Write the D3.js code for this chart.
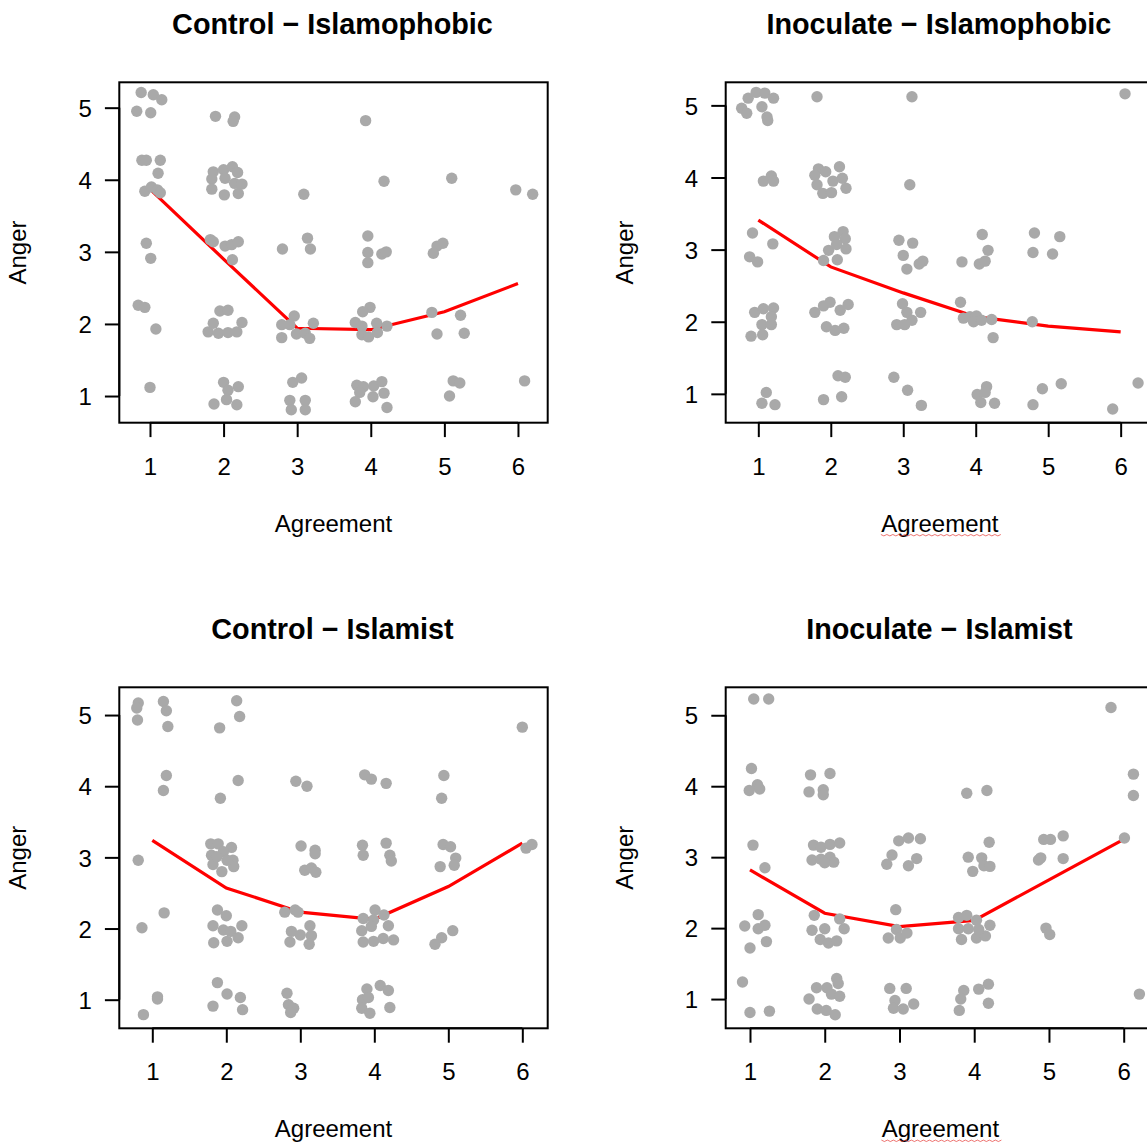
<!DOCTYPE html>
<html>
<head>
<meta charset="utf-8">
<script src="https://cdn.jsdelivr.net/npm/d3@7"></script>
<style>
  body { margin: 0; background: #fff; }
  svg { display: block; font-family: "Liberation Sans", Arial, sans-serif; }
</style>
</head>
<body>
<div class="chart"></div>
<script>
// ---- data ----
var agreementLevels = [1, 2, 3, 4, 5, 6];
var angerTicks = [1, 2, 3, 4, 5];
var panelTitles = ['Control \u2212 Islamophobic', 'Inoculate \u2212 Islamophobic',
                   'Control \u2212 Islamist', 'Inoculate \u2212 Islamist'];
var xLabel = 'Agreement';
var yLabel = 'Anger';

// jittered responses [agreement, anger]
var ctrlPhobicPts = [
  [0.88,5.21],[1.045,5.18],[1.16,5.11],[0.82,4.95],[1.01,4.93],[0.89,4.27],[0.95,4.27],[1.14,4.27],
  [1.11,4.09],[0.93,3.84],[1.02,3.90],[1.10,3.86],[1.14,3.82],[0.95,3.12],[1.01,2.91],[0.84,2.26],
  [0.93,2.23],[1.08,1.93],[1.00,1.12],
  [1.89,4.88],[2.15,4.87],[2.13,4.81],[1.86,4.11],[2.00,4.14],[2.12,4.18],[2.19,4.10],[1.84,4.01],
  [2.02,4.02],[2.15,3.95],[2.25,3.94],[1.84,3.87],[2.01,3.79],[2.20,3.81],[1.82,3.17],[1.86,3.14],
  [2.02,3.08],[2.11,3.10],[2.20,3.14],[2.12,2.89],[1.95,2.18],[2.06,2.19],[1.86,2.01],[1.79,1.89],
  [1.93,1.87],[2.06,1.88],[2.18,1.89],[2.25,2.02],[2.00,1.19],[2.20,1.13],[2.06,1.08],[1.87,0.89],
  [2.04,0.95],[2.18,0.88],
  [3.09,3.80],[3.14,3.19],[3.18,3.04],[2.80,3.04],[2.96,2.11],[2.79,1.99],[2.90,1.99],[3.22,2.01],
  [2.79,1.81],[2.99,1.86],[3.11,1.87],[3.17,1.80],[2.94,1.19],[3.06,1.25],[2.90,0.94],[3.11,0.94],
  [2.92,0.81],[3.11,0.81],
  [3.93,4.82],[4.18,3.98],[3.96,3.22],[3.96,2.99],[4.15,2.97],[4.21,3.00],[3.96,2.85],[3.99,2.23],
  [3.89,2.17],[3.79,2.02],[3.88,1.97],[4.08,2.01],[4.22,1.97],[3.88,1.85],[3.97,1.82],[4.09,1.88],
  [3.81,1.15],[3.90,1.13],[4.04,1.14],[4.15,1.20],[3.85,1.05],[4.03,0.99],[4.18,1.04],[3.79,0.92],
  [4.22,0.84],
  [5.10,4.02],[4.90,3.08],[4.98,3.12],[4.85,2.98],[4.83,2.16],[5.22,2.12],[4.90,1.86],[5.27,1.87],
  [5.12,1.21],[5.21,1.18],[5.07,1.00],
  [5.97,3.86],[6.20,3.80],[6.09,1.21]
];
var ctrlPhobicMean = [3.87, 2.90, 1.94, 1.92, 2.17, 2.56];

var inocPhobicPts = [
  [0.86,5.10],[0.97,5.18],[1.09,5.17],[1.21,5.10],[1.05,4.98],[0.77,4.96],[0.84,4.89],[1.12,4.84],
  [1.13,4.79],[1.07,3.95],[1.18,4.02],[1.21,3.95],[0.92,3.23],[1.20,3.08],[0.88,2.90],[0.99,2.83],
  [0.95,2.13],[1.07,2.18],[1.21,2.19],[1.05,1.96],[1.18,1.96],[1.18,2.07],[0.90,1.80],[1.06,1.82],
  [1.11,1.02],[1.05,0.87],[1.23,0.85],
  [1.81,5.12],[1.83,4.12],[1.93,4.08],[2.12,4.15],[1.78,4.03],[2.03,3.95],[2.16,3.99],[1.81,3.90],
  [1.89,3.78],[2.01,3.79],[2.21,3.85],[2.17,3.25],[2.05,3.18],[2.20,3.15],[1.97,2.99],[2.08,3.07],
  [2.21,3.01],[1.90,2.85],[2.09,2.86],[1.78,2.13],[1.90,2.22],[1.99,2.27],[2.13,2.16],[2.24,2.24],
  [1.94,1.93],[2.06,1.88],[2.18,1.91],[2.10,1.25],[2.20,1.23],[1.90,0.92],[2.15,0.96],
  [3.12,5.12],[3.09,3.90],[2.94,3.13],[3.13,3.09],[3.00,2.92],[3.27,2.84],[3.05,2.73],[3.22,2.80],
  [2.99,2.25],[3.05,2.13],[3.24,2.13],[2.91,1.96],[3.02,1.96],[3.12,2.02],[2.87,1.23],[3.06,1.05],
  [3.25,0.84],
  [4.09,3.21],[4.17,2.99],[3.81,2.83],[4.05,2.80],[4.13,2.84],[3.79,2.27],[3.83,2.05],[3.92,2.07],
  [4.01,2.08],[3.97,2.00],[4.08,2.02],[4.22,2.03],[4.24,1.78],[4.15,1.10],[4.02,0.99],[4.13,1.02],
  [4.26,0.87],[4.07,0.88],
  [4.81,3.23],[5.16,3.18],[4.79,2.96],[5.06,2.94],[4.78,2.00],[4.92,1.07],[5.18,1.14],[4.79,0.85],
  [6.06,5.16],[5.89,0.79],[6.24,1.15]
];
var inocPhobicMean = [3.41, 2.76, 2.40, 2.07, 1.94, 1.86];

var ctrlIslamistPts = [
  [0.81,5.17],[0.79,5.10],[0.80,4.93],[1.15,5.19],[1.19,5.06],[1.21,4.84],[1.19,4.15],[1.15,3.94],
  [0.81,2.96],[1.16,2.22],[0.86,2.01],[1.07,1.04],[1.07,1.01],[0.88,0.79],
  [2.14,5.20],[2.18,4.98],[1.91,4.82],[2.16,4.08],[1.92,3.83],[1.79,3.19],[1.89,3.19],[2.07,3.14],
  [1.80,3.03],[1.96,3.08],[2.09,2.96],[1.82,2.90],[1.94,2.80],[2.10,2.87],[2.01,2.96],[1.87,3.01],
  [1.88,2.26],[2.00,2.18],[1.82,2.04],[1.96,1.98],[2.21,2.04],[2.06,1.96],[2.16,1.87],[1.83,1.80],
  [2.01,1.82],[1.88,1.24],[2.01,1.08],[2.19,1.03],[1.82,0.91],[2.22,0.86],
  [2.94,4.07],[3.09,4.00],[3.01,3.16],[3.20,3.10],[3.20,3.05],[3.06,2.82],[3.15,2.85],[3.21,2.79],
  [2.79,2.23],[2.93,2.26],[2.97,2.23],[2.88,1.96],[3.00,1.91],[3.13,2.04],[3.15,1.90],[2.86,1.81],
  [3.12,1.78],[2.82,1.09],[2.84,0.93],[2.91,0.88],[2.87,0.82],
  [3.87,4.16],[3.96,4.10],[4.16,4.04],[3.84,3.17],[3.85,3.03],[4.16,3.20],[4.21,3.03],[4.23,2.95],
  [4.01,2.26],[4.13,2.19],[3.85,2.14],[3.99,2.12],[3.83,1.97],[3.96,2.03],[4.19,2.04],[3.85,1.81],
  [3.99,1.82],[4.12,1.86],[4.26,1.84],[4.08,1.20],[4.19,1.13],[3.90,1.15],[3.84,1.00],[3.92,1.03],
  [3.83,0.88],[3.94,0.81],[4.21,0.89],
  [4.94,4.15],[4.91,3.83],[4.93,3.18],[5.03,3.15],[5.10,2.99],[5.08,2.89],[4.89,2.87],[5.06,1.97],
  [4.91,1.87],[4.82,1.78],
  [6.00,4.83],[6.05,3.13],[6.13,3.18]
];
var ctrlIslamistMean = [3.24, 2.57, 2.23, 2.13, 2.59, 3.20];

var inocIslamistPts = [
  [1.05,5.23],[1.25,5.23],[1.02,4.25],[1.10,4.02],[0.99,3.94],[1.13,3.96],[1.04,3.17],[1.20,2.85],
  [1.11,2.19],[0.93,2.03],[1.11,1.99],[1.20,2.04],[1.22,1.81],[1.00,1.72],[0.90,1.24],[1.00,0.81],
  [1.26,0.83],
  [1.81,4.16],[2.07,4.18],[1.79,3.92],[1.98,3.95],[1.98,3.88],[1.85,3.17],[1.95,3.14],[2.07,3.18],
  [2.20,3.20],[1.83,2.96],[1.95,2.97],[2.07,3.00],[2.12,2.93],[2.00,2.92],[1.86,2.18],[2.20,2.13],
  [2.26,1.99],[1.83,1.97],[2.00,1.99],[1.94,1.84],[2.05,1.79],[2.16,1.82],[1.89,1.16],[2.03,1.16],
  [2.16,1.29],[2.18,1.22],[2.09,1.07],[2.20,1.04],[1.79,1.00],[1.90,0.86],[2.02,0.84],[2.14,0.78],
  [2.99,3.23],[3.12,3.27],[3.28,3.26],[2.90,3.03],[2.83,2.90],[3.12,2.88],[3.23,2.98],[2.95,2.26],
  [2.85,1.86],[2.96,1.98],[3.01,1.86],[3.10,1.93],[2.87,1.15],[3.09,1.15],[2.94,0.98],[2.92,0.87],
  [3.05,0.86],[3.19,0.93],
  [3.90,3.90],[4.17,3.94],[4.20,3.21],[3.92,3.00],[4.10,2.99],[4.13,2.88],[4.21,2.87],[3.98,2.80],
  [3.79,2.15],[3.90,2.18],[4.03,2.11],[3.79,1.99],[3.92,1.99],[4.21,2.04],[3.83,1.84],[4.03,1.86],
  [4.15,1.89],[4.06,1.98],[3.86,1.12],[4.06,1.14],[4.19,1.21],[3.82,1.00],[3.80,0.84],[4.19,0.94],
  [4.93,3.25],[5.02,3.25],[5.19,3.30],[4.86,2.96],[4.89,2.99],[5.19,2.98],[4.96,2.00],[5.01,1.91],
  [5.83,5.11],[6.13,4.17],[6.13,3.87],[6.01,3.27],[6.21,1.07]
];
var inocIslamistMean = [2.82, 2.21, 2.02, 2.11, 2.68, 3.25];

// ---- layout ----
var svgWidth = 1147;
var svgHeight = 1144;
var fontSize = 24;
var panels = [
  {title: panelTitles[0], pts: ctrlPhobicPts,   mean: ctrlPhobicMean,   left: 119.3, top: 82.3,  width: 428.4, height: 340.4, xDom: [0.583, 6.404], yDom: [0.63, 5.352], squiggle: false},
  {title: panelTitles[1], pts: inocPhobicPts,   mean: inocPhobicMean,   left: 725.7, top: 82.3,  width: 428.3, height: 340.4, xDom: [0.55, 6.46],   yDom: [0.60, 5.32],  squiggle: true},
  {title: panelTitles[2], pts: ctrlIslamistPts, mean: ctrlIslamistMean, left: 119.3, top: 687.3, width: 428.4, height: 341,   xDom: [0.554, 6.343], yDom: [0.598, 5.39], squiggle: false},
  {title: panelTitles[3], pts: inocIslamistPts, mean: inocIslamistMean, left: 725.7, top: 687.3, width: 429.4, height: 341,   xDom: [0.675, 6.42],  yDom: [0.588, 5.394], squiggle: true}
];

var svg = d3.select('.chart')
    .append('svg')
    .attr('width', svgWidth)
    .attr('height', svgHeight);

panels.forEach(function(p) {
    var g = svg.append('g')
        .attr('transform', 'translate(' + p.left + ',' + p.top + ')');

    var x = d3.scaleLinear().domain(p.xDom).range([0, p.width]);
    var y = d3.scaleLinear().domain(p.yDom).range([p.height, 0]);

    // mean line (sits under the points)
    var line = d3.line()
        .x(function(d, i) { return x(agreementLevels[i]); })
        .y(function(d) { return y(d); });
    g.append('path')
        .datum(p.mean)
        .attr('d', line)
        .attr('fill', 'none')
        .attr('stroke', '#ff0000')
        .attr('stroke-width', 3.2);

    // points
    g.selectAll('circle')
        .data(p.pts)
        .enter()
        .append('circle')
        .attr('cx', function(d) { return x(d[0]); })
        .attr('cy', function(d) { return y(d[1]); })
        .attr('r', 5.7)
        .attr('fill', '#a9a9a9');

    // box
    g.append('rect')
        .attr('width', p.width)
        .attr('height', p.height)
        .attr('fill', 'none')
        .attr('stroke', '#000')
        .attr('stroke-width', 2);

    // x axis
    var xAxis = g.append('g')
        .attr('transform', 'translate(0,' + p.height + ')')
        .call(d3.axisBottom(x).tickValues(agreementLevels).tickSize(14.4).tickFormat(d3.format('d')));
    xAxis.select('.domain').remove();
    xAxis.selectAll('line').attr('stroke-width', 2);
    xAxis.selectAll('text')
        .attr('y', 52)
        .attr('dy', null)
        .attr('font-size', fontSize)
        .attr('font-family', '"Liberation Sans", Arial, sans-serif')
        .attr('fill', '#000');
    xAxis.append('line')
        .attr('x1', x(agreementLevels[0])).attr('x2', x(agreementLevels[agreementLevels.length - 1]))
        .attr('stroke', '#000').attr('stroke-width', 2);

    // y axis
    var yAxis = g.append('g')
        .call(d3.axisLeft(y).tickValues(angerTicks).tickSize(14.4).tickFormat(d3.format('d')));
    yAxis.select('.domain').remove();
    yAxis.selectAll('line').attr('stroke-width', 2);
    yAxis.selectAll('text')
        .attr('x', -27.5)
        .attr('dy', '0.36em')
        .attr('font-size', fontSize)
        .attr('font-family', '"Liberation Sans", Arial, sans-serif')
        .attr('fill', '#000');
    yAxis.append('line')
        .attr('y1', y(angerTicks[0])).attr('y2', y(angerTicks[angerTicks.length - 1]))
        .attr('stroke', '#000').attr('stroke-width', 2);

    // title
    g.append('text')
        .attr('x', p.width / 2 - 1)
        .attr('y', -48)
        .attr('text-anchor', 'middle')
        .attr('font-size', fontSize * 1.2)
        .attr('font-weight', 'bold')
        .text(p.title);

    // axis titles
    g.append('text')
        .attr('x', p.width / 2)
        .attr('y', p.height + 109)
        .attr('text-anchor', 'middle')
        .attr('font-size', fontSize)
        .text(xLabel);

    g.append('text')
        .attr('transform', 'translate(' + (-93) + ',' + (p.height / 2) + ') rotate(-90)')
        .attr('text-anchor', 'middle')
        .attr('font-size', fontSize)
        .text(yLabel);

    // spell-check squiggle seen under the right-hand axis titles
    if (p.squiggle) {
        var zig = [];
        for (var i = 0; i <= 40; i++) zig.push([p.width / 2 - 59 + i * 3, p.height + 112 + (i % 2 ? 1.2 : -0.2)]);
        g.append('path')
            .attr('d', d3.line()(zig))
            .attr('fill', 'none')
            .attr('stroke', '#e53935')
            .attr('stroke-width', 0.7);
    }
});
</script>
</body>
</html>
